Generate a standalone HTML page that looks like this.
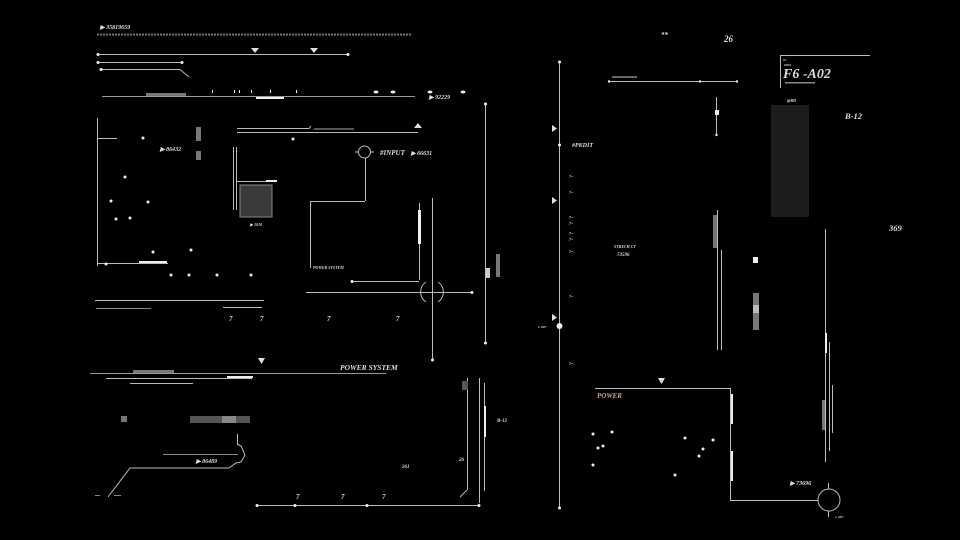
<!DOCTYPE html>
<html><head><meta charset="utf-8"><style>
html,body{margin:0;padding:0;background:#000;}
svg{display:block}
text{font-family:"Liberation Serif",serif;font-style:italic;font-weight:bold;fill:#ddd}
</style></head><body>
<svg width="960" height="540" viewBox="0 0 960 540" xmlns="http://www.w3.org/2000/svg">
<rect width="960" height="540" fill="#000"/>
<g stroke="#bbb" stroke-width="1" fill="none">
<line x1="97" y1="34.5" x2="412" y2="34.5" stroke="#777" stroke-width="2" stroke-dasharray="2 1"/>
<line x1="98" y1="54.5" x2="348" y2="54.5"/>
<line x1="98" y1="62.5" x2="182" y2="62.5"/>
<polyline points="101,69.5 180,69.5 189,77"/>
<line x1="102" y1="96.5" x2="415" y2="96.5" stroke="#999"/>
<line x1="97.5" y1="118" x2="97.5" y2="266"/>
<line x1="97" y1="138.5" x2="117" y2="138.5"/>
<line x1="97" y1="263.5" x2="168" y2="263.5"/>
<polyline points="237,128.5 309,128.5 311,126"/>
<line x1="237" y1="132.5" x2="418" y2="132.5"/>
<line x1="233.5" y1="147" x2="233.5" y2="210"/>
<line x1="236.5" y1="147" x2="236.5" y2="210"/>
<line x1="236" y1="181.5" x2="276" y2="181.5"/>
<line x1="365.5" y1="158" x2="365.5" y2="201"/>
<polyline points="365,201.5 310.5,201.5 310.5,268"/>
<circle cx="364.5" cy="152" r="6"/>
<line x1="355" y1="152" x2="358" y2="152"/><line x1="371" y1="152" x2="374" y2="152"/>
<line x1="419.5" y1="203" x2="419.5" y2="280"/>
<line x1="352" y1="281.5" x2="419" y2="281.5"/>
<line x1="432.5" y1="198" x2="432.5" y2="360"/>
<line x1="306" y1="292.5" x2="472" y2="292.5"/>
<path d="M426,282 A12,12 0 0 0 426,302 M438,282 A12,12 0 0 1 438,302"/>
<line x1="485.5" y1="104" x2="485.5" y2="343"/>
<line x1="95" y1="300.5" x2="264" y2="300.5"/>
<line x1="96" y1="308.5" x2="151" y2="308.5" stroke="#888"/>
<line x1="223" y1="307.5" x2="262" y2="307.5"/>
<line x1="90" y1="373.5" x2="386" y2="373.5" stroke="#999"/>
<line x1="106" y1="378.5" x2="252" y2="378.5"/>
<line x1="130" y1="383.5" x2="193" y2="383.5"/>
<line x1="163" y1="454.5" x2="238" y2="454.5" stroke="#888"/>
<polyline points="237,444 241,446 245,455 241,462 236,463 229,468 130,468 108,497"/>
<line x1="237.5" y1="434" x2="237.5" y2="444"/>
<line x1="467.5" y1="378" x2="467.5" y2="490"/>
<line x1="467" y1="490" x2="460" y2="497"/>
<line x1="479.5" y1="378" x2="479.5" y2="503"/>
<line x1="484.5" y1="383" x2="484.5" y2="491"/>
<line x1="257" y1="505.5" x2="479" y2="505.5"/>
<line x1="95" y1="495.5" x2="100" y2="495.5" stroke="#888"/>
<line x1="114" y1="495.5" x2="121" y2="495.5" stroke="#888"/>
<line x1="559.5" y1="62" x2="559.5" y2="508"/>
<line x1="609" y1="81.5" x2="737" y2="81.5"/>
<line x1="716.5" y1="97" x2="716.5" y2="135"/>
<polyline points="780.5,88 780.5,55.5 870,55.5"/>
<line x1="717.5" y1="210" x2="717.5" y2="350"/>
<line x1="721.5" y1="250" x2="721.5" y2="350"/>
<line x1="825.5" y1="229" x2="825.5" y2="462"/>
<line x1="829.5" y1="342" x2="829.5" y2="451"/>
<line x1="832.5" y1="385" x2="832.5" y2="433"/>
<polyline points="595,388.5 730.5,388.5 730.5,500.5 818,500.5"/>
<circle cx="829" cy="500" r="11"/>
<line x1="828.5" y1="483" x2="828.5" y2="489"/><line x1="828.5" y1="511" x2="828.5" y2="517"/>
</g>
<g fill="#777">
<rect x="146" y="93" width="40" height="3"/>
<rect x="196" y="127" width="5" height="14"/>
<rect x="196" y="151" width="5" height="9"/>
<rect x="240" y="185" width="32" height="32" fill="#3a3a3a" stroke="#888"/>
<rect x="496" y="254" width="4" height="23"/>
<rect x="133" y="370" width="41" height="3"/>
<rect x="121" y="416" width="6" height="6"/>
<rect x="190" y="416" width="60" height="7" fill="#555"/>
<rect x="222" y="416" width="14" height="7" fill="#888"/>
<rect x="462" y="381" width="6" height="9" fill="#555"/>
<rect x="771" y="105" width="38" height="112" fill="#1c1c1c"/>
<rect x="713" y="215" width="4" height="33"/>
<rect x="753" y="293" width="6" height="37"/>
<rect x="753" y="305" width="6" height="8" fill="#bbb"/>
<rect x="822" y="400" width="3" height="30"/>
</g>
<g fill="#eee">
<rect x="256" y="97" width="28" height="2"/>
<rect x="266" y="180" width="11" height="2"/>
<rect x="139" y="261" width="28" height="2"/>
<rect x="418" y="210" width="3" height="34"/>
<rect x="486" y="268" width="4" height="10" fill="#ccc"/>
<rect x="227" y="376" width="26" height="2"/>
<rect x="484" y="406" width="2" height="31"/>
<rect x="715" y="110" width="4" height="5"/>
<rect x="753" y="257" width="5" height="6"/>
<rect x="825" y="333" width="2" height="20"/>
<rect x="731" y="394" width="2" height="30"/>
<rect x="731" y="451" width="2" height="30"/>
<circle cx="559.5" cy="326" r="3"/>
<circle cx="98" cy="54.5" r="1.5"/><circle cx="348" cy="54.5" r="1.5"/><circle cx="98" cy="62.5" r="1.5"/><circle cx="182" cy="62.5" r="1.5"/><circle cx="101" cy="69.5" r="1.5"/>
<circle cx="485.5" cy="104" r="1.5"/><circle cx="485.5" cy="343" r="1.5"/><circle cx="432.5" cy="360" r="1.5"/><circle cx="472" cy="292.5" r="1.5"/><circle cx="352" cy="281.5" r="1.5"/>
<circle cx="257" cy="505.5" r="1.5"/><circle cx="295" cy="505.5" r="1.5"/><circle cx="367" cy="505.5" r="1.5"/><circle cx="479" cy="505.5" r="1.5"/>
<circle cx="559.5" cy="62" r="1.5"/><circle cx="559.5" cy="145" r="1.5"/><circle cx="559.5" cy="508" r="1.5"/>
<circle cx="609" cy="81.5" r="1.2"/><circle cx="700" cy="81.5" r="1.2"/><circle cx="737" cy="81.5" r="1.2"/>
<circle cx="716.5" cy="135" r="1.2"/>
<circle cx="143" cy="138" r="1.5"/><circle cx="125" cy="177" r="1.5"/><circle cx="111" cy="201" r="1.5"/><circle cx="148" cy="202" r="1.5"/><circle cx="116" cy="219" r="1.5"/><circle cx="130" cy="218" r="1.5"/><circle cx="153" cy="252" r="1.5"/><circle cx="191" cy="250" r="1.5"/><circle cx="106" cy="264" r="1.5"/><circle cx="171" cy="275" r="1.5"/><circle cx="189" cy="275" r="1.5"/><circle cx="217" cy="275" r="1.5"/><circle cx="251" cy="275" r="1.5"/><circle cx="293" cy="139" r="1.5"/>
<circle cx="593" cy="434" r="1.5"/><circle cx="612" cy="432" r="1.5"/><circle cx="598" cy="448" r="1.5"/><circle cx="603" cy="446" r="1.5"/><circle cx="593" cy="465" r="1.5"/><circle cx="675" cy="475" r="1.5"/><circle cx="685" cy="438" r="1.5"/><circle cx="713" cy="440" r="1.5"/><circle cx="703" cy="449" r="1.5"/><circle cx="699" cy="456" r="1.5"/>
<ellipse cx="376" cy="92" rx="2.5" ry="1.5"/><ellipse cx="393" cy="92" rx="2.5" ry="1.5"/><ellipse cx="430" cy="92" rx="2.5" ry="1.5"/><ellipse cx="463" cy="92" rx="2.5" ry="1.5"/>
<rect x="212" y="90" width="1" height="3"/><rect x="234" y="90" width="1" height="3"/><rect x="239" y="90" width="1" height="3"/><rect x="251" y="90" width="1" height="3"/><rect x="270" y="90" width="1" height="3"/><rect x="296" y="90" width="1" height="3"/>
</g>
<g fill="#ddd">
<polygon points="251,48 259,48 255,53"/><polygon points="310,48 318,48 314,53"/>
<polygon points="414,128 422,128 418,123"/>
<polygon points="258,358 265,358 261.5,364"/>
<polygon points="552,125 552,132 557,128.5"/><polygon points="552,197 552,204 557,200.5"/><polygon points="552,314 552,321 557,317.5"/>
<polygon points="658,378 665,378 661.5,384"/>
</g>
<g font-size="6">
<text x="100" y="29" font-size="6">▶ 35819659</text>
<text x="429" y="99">▶ 92229</text>
<text x="160" y="151">▶ 86432</text>
<text x="250" y="226" font-size="4">▶ 1010</text>
<text x="380" y="155" font-size="7">#INPUT</text>
<text x="411" y="155">▶ 66631</text>
<text x="313" y="269" font-size="4">POWER SYSTEM</text>
<text x="229" y="321" font-size="7">7</text><text x="260" y="321" font-size="7">7</text><text x="327" y="321" font-size="7">7</text><text x="396" y="321" font-size="7">7</text>
<text x="340" y="370" font-size="7.5">POWER SYSTEM</text>
<text x="196" y="463">▶ 86489</text>
<text x="497" y="422" font-size="5">B-12</text>
<text x="459" y="461" font-size="5">26</text>
<text x="402" y="468" font-size="5">261</text>
<text x="296" y="499" font-size="7">7</text><text x="341" y="499" font-size="7">7</text><text x="382" y="499" font-size="7">7</text>
<text x="572" y="147">#PKDIT</text>
<text x="661" y="37" font-size="7">**</text>
<text x="724" y="42" font-size="9">26</text>
<text x="783" y="78" font-size="14" font-weight="normal">F6 -A02</text>
<text x="783" y="61" font-size="3">01 .</text>
<text x="784" y="66" font-size="3">ERSS</text>
<text x="787" y="102" font-size="4">@RH</text>
<text x="845" y="119" font-size="8.5">B-12</text>
<text x="889" y="231" font-size="8.5">369</text>
<text x="614" y="248" font-size="4">STRECH CT</text>
<text x="617" y="256" font-size="5">73596</text>
<text x="597" y="398" font-size="7" style="fill:#c8a88a">POWER</text>
<text x="790" y="485" font-size="6">▶ 73696</text>
<text x="538" y="328" font-size="3">● 1007</text>
<text x="835" y="518" font-size="3">● 1007</text>
</g>
<g fill="#aaa" font-size="4">
<text x="569" y="178">7~</text><text x="569" y="194">7~</text><text x="569" y="219">7~</text><text x="569" y="225">7~</text><text x="569" y="235">7~</text><text x="569" y="241">7~</text><text x="569" y="253">7~</text><text x="569" y="298">7~</text><text x="569" y="365">7~</text>
</g>
<rect x="612" y="76" width="25" height="2" fill="#666"/>
<rect x="785" y="82" width="30" height="1.5" fill="#888"/>
<rect x="314" y="128" width="40" height="2" fill="#555"/>
</svg>
</body></html>
